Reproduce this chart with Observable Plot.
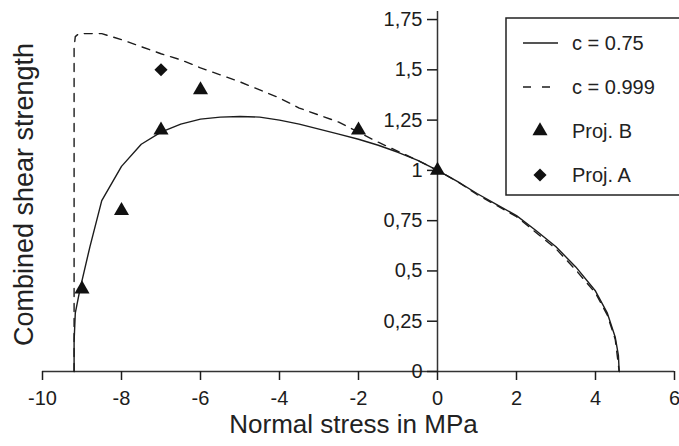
<!DOCTYPE html>
<html>
<head>
<meta charset="utf-8">
<script src="https://cdn.jsdelivr.net/npm/d3@7"></script>
<script src="https://cdn.jsdelivr.net/npm/@observablehq/plot@0.6"></script>
<style>
  html, body { margin: 0; padding: 0; background: #fff; overflow: hidden; }
  #wrap { position: relative; width: 679px; height: 446px; overflow: hidden; }
  #legend { position: absolute; left: 0; top: 0; }
</style>
</head>
<body>
<div id="wrap"></div>
<script>
// ---- data ----
const xTicks = [-10, -8, -6, -4, -2, 0, 2, 4, 6];
const yTicks = [0, 0.25, 0.5, 0.75, 1, 1.25, 1.5, 1.75];

const solidX = [-9.2, -9.2, -9.17, -9.05, -8.8, -8.5, -8.0, -7.5, -7.0, -6.5, -6.0, -5.5, -5.0, -4.5, -4.0, -3.5, -3.0, -2.5, -2.0, -1.5, -1.0, -0.5, 0, 0.5, 1.0, 1.5, 2.0, 2.5, 3.0, 3.5, 4.0, 4.3, 4.5, 4.58, 4.6];
const solidY = [0, 0.15, 0.29, 0.41, 0.62, 0.85, 1.02, 1.13, 1.19, 1.23, 1.255, 1.265, 1.268, 1.265, 1.25, 1.23, 1.205, 1.18, 1.155, 1.125, 1.09, 1.05, 1.0, 0.945, 0.885, 0.83, 0.775, 0.70, 0.62, 0.52, 0.40, 0.29, 0.17, 0.08, 0];

const dashX = [-9.2, -9.2, -9.17, -9.08, -8.5, -8.0, -7.5, -7.0, -6.5, -6.0, -5.5, -5.0, -4.5, -4.0, -3.5, -3.0, -2.5, -2.0, -1.5, -1.0, -0.5, 0, 0.5, 1.0, 1.5, 2.0, 2.5, 3.0, 3.5, 4.0, 4.3, 4.5, 4.6];
const dashY = [0, 1.61, 1.665, 1.68, 1.68, 1.65, 1.615, 1.58, 1.55, 1.51, 1.475, 1.44, 1.40, 1.36, 1.31, 1.275, 1.24, 1.19, 1.14, 1.095, 1.05, 1.0, 0.945, 0.88, 0.825, 0.77, 0.69, 0.61, 0.505, 0.39, 0.28, 0.16, 0];

const projBX = [-9, -8, -7, -6, -2, 0];
const projBY = [0.41, 0.80, 1.20, 1.40, 1.20, 1.00];
const projAX = [-7];
const projAY = [1.50];

const seriesNames = ["c = 0.75", "c = 0.999", "Proj. B", "Proj. A"];
const xTitle = "Normal stress in MPa";
const yTitle = "Combined shear strength";

// ---- tables ----
const solid = solidX.map((x, i) => ({x, y: solidY[i]}));
const dashed = dashX.map((x, i) => ({x, y: dashY[i]}));
const projB = projBX.map((x, i) => ({x, y: projBY[i]}));
const projA = projAX.map((x, i) => ({x, y: projAY[i]}));

// ---- layout ----
const W = 679, H = 446;
const mL = 42, mR = 5, mT = 11, mB = 75;
const xDomain = [-10, 6];
const yDomain = [0, 1.79];
const font = "'Liberation Sans', Arial, sans-serif";
const ink = "#1c1c1c";

const xs = Plot.scale({x: {domain: xDomain, range: [mL, W - mR]}});
const axisShift = xs.apply(0) - mL;

const fmtX = d => (d < 0 ? "-" + Math.abs(d) : String(d));
const fmtY = d => String(d).replace(".", ",");

const chart = Plot.plot({
  width: W, height: H,
  marginLeft: mL, marginRight: mR, marginTop: mT, marginBottom: mB,
  x: {domain: xDomain},
  y: {domain: yDomain},
  style: {fontFamily: font, background: "white", color: ink},
  marks: [
    Plot.ruleY([0], {stroke: "#333", strokeWidth: 1.5}),
    Plot.ruleX([0], {stroke: "#333", strokeWidth: 1.5}),
    Plot.axisX({ticks: xTicks, tickFormat: fmtX, tickSize: 9, tickPadding: 10, fontSize: 20, strokeWidth: 1.5, label: null}),
    Plot.axisY({ticks: yTicks, tickFormat: fmtY, tickSize: 10, tickPadding: 5, fontSize: 20, strokeWidth: 1.5, dx: axisShift, label: null}),
    Plot.line(dashed, {x: "x", y: "y", stroke: ink, strokeWidth: 1.4, strokeDasharray: "8,7"}),
    Plot.line(solid, {x: "x", y: "y", stroke: ink, strokeWidth: 1.4}),
    Plot.dot(projB, {x: "x", y: "y", symbol: "triangle", r: 5.6, fill: "#111", stroke: "none"}),
    Plot.dot(projA, {x: "x", y: "y", symbol: "diamond2", r: 5.9, fill: "#111", stroke: "none"}),
    Plot.text([xTitle], {text: d => d, frameAnchor: "bottom", dy: 61, dx: -5, fontSize: 26, fill: "#222"}),
    Plot.text([yTitle], {text: d => d, frameAnchor: "left", textAnchor: "middle", lineAnchor: "middle", rotate: -90, dx: -18.5, dy: 3, fontSize: 27, fill: "#222"})
  ]
});

const wrap = document.getElementById("wrap");
wrap.appendChild(chart);

// ---- legend (overlay) ----
const lg = d3.select(wrap).append("svg")
  .attr("id", "legend")
  .attr("width", W).attr("height", H)
  .style("pointer-events", "none");
const bx = 506, by = 18, bw = 176, bh = 177;
lg.append("rect").attr("x", bx).attr("y", by).attr("width", bw).attr("height", bh)
  .attr("fill", "white").attr("stroke", "#222").attr("stroke-width", 1.5);
const rowY = i => by + 25 + i * 44;
const sx0 = 523, sx1 = 558, symX = 540, tx = 572;
seriesNames.forEach((name, i) => {
  const g = lg.append("g");
  if (i === 0) {
    g.append("line").attr("x1", sx0).attr("x2", sx1).attr("y1", rowY(i)).attr("y2", rowY(i))
      .attr("stroke", ink).attr("stroke-width", 1.4);
  } else if (i === 1) {
    g.append("line").attr("x1", sx0).attr("x2", sx1).attr("y1", rowY(i)).attr("y2", rowY(i))
      .attr("stroke", ink).attr("stroke-width", 1.4).attr("stroke-dasharray", "8,11");
  } else {
    const sym = i === 2 ? d3.symbolTriangle : d3.symbolDiamond2;
    const r = i === 2 ? 5.6 : 5.9;
    g.append("path").attr("d", d3.symbol(sym, Math.PI * r * r)())
      .attr("transform", `translate(${symX},${rowY(i)})`).attr("fill", "#111");
  }
  g.append("text").attr("x", tx).attr("y", rowY(i)).attr("dy", "0.35em")
    .attr("font-family", font).attr("font-size", 20).attr("fill", "#222").text(name);
});
</script>
</body>
</html>
